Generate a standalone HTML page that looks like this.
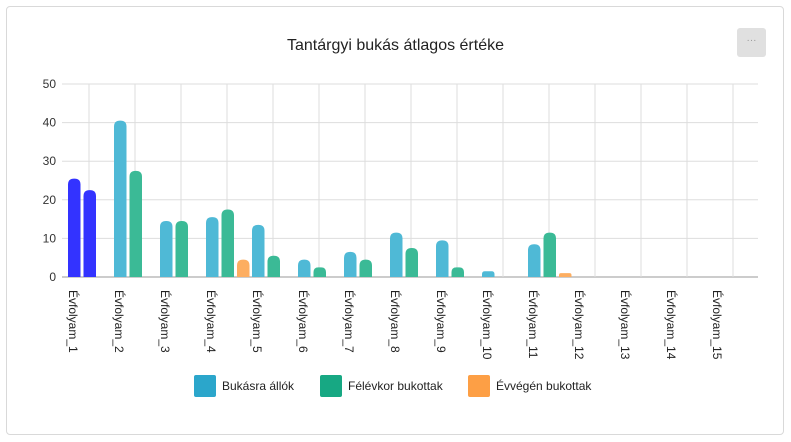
<!DOCTYPE html>
<html><head><meta charset="utf-8"><style>
body{margin:0;width:791px;height:442px;background:#fff;font-family:"Liberation Sans",sans-serif;overflow:hidden}
.card{position:absolute;left:6px;top:6px;width:778px;height:429px;border:1px solid #d9d9d9;border-radius:4px;box-sizing:border-box}
.title{position:absolute;left:0;width:791px;top:37px;text-align:center;font-size:16px;color:#222}
.menu{position:absolute;left:737px;top:28px;width:29px;height:29px;background:#e0e0e0;border-radius:3px;color:#999;font-size:10px;text-align:center;line-height:26px}
</style></head><body>
<div class="card"></div>
<div class="title">Tantárgyi bukás átlagos értéke</div>
<div class="menu">···</div>
<svg id="c" width="791" height="442" style="position:absolute;left:0;top:0"></svg>
<script>
const categories=["Évfolyam_1","Évfolyam_2","Évfolyam_3","Évfolyam_4","Évfolyam_5","Évfolyam_6","Évfolyam_7","Évfolyam_8","Évfolyam_9","Évfolyam_10","Évfolyam_11","Évfolyam_12","Évfolyam_13","Évfolyam_14","Évfolyam_15"];
const bukasra=[25.5,40.5,14.5,15.5,13.5,4.5,6.5,11.5,9.5,1.5,8.5,0,0,0,0];
const felevkor=[22.5,27.5,14.5,17.5,5.5,2.5,4.5,7.5,2.5,0,11.5,0,0,0,0];
const evvegen=[0,0,0,4.5,0,0,0,0,0,0,1,0,0,0,0];
const yTicks=[0,10,20,30,40,50];
const seriesNames=["Bukásra állók","Félévkor bukottak","Évvégén bukottak"];
const NS="http://www.w3.org/2000/svg",svg=document.getElementById('c');
const x0=68,step=46,yBase=277,yTop=84,yMax=50;
const y=v=>yBase-(yBase-yTop)*v/yMax;
const gx=i=>x0+i*step;
function el(t,a,p){const e=document.createElementNS(NS,t);for(const k in a)e.setAttribute(k,a[k]);(p||svg).appendChild(e);return e;}
yTicks.forEach(t=>{
 const l=el('line',{x1:62,x2:758,y1:y(t),y2:y(t),stroke:t===0?'#999':'#ddd','stroke-width':1});
 
 
 const tx=el('text',{x:56,y:y(t)+4,'text-anchor':'end','font-size':12,fill:'#333'});tx.textContent=t;
 
 
});
categories.forEach((c,i)=>{
 const l=el('line',{x1:gx(i)+21,x2:gx(i)+21,y1:yTop,y2:yBase,stroke:'#ddd','stroke-width':1});
 
 
});
const cols=[['#4fb9d6','#3bba96','#fdae61']];
const series=[bukasra,felevkor,evvegen];
function bar(xl,v,color){
 if(v<=0)return;
 const w=12.5,top=y(v),h=yBase-top,r=Math.min(6,h/2);
 const d=`M${xl},${yBase}V${top+r}Q${xl},${top} ${xl+r},${top}H${xl+w-r}Q${xl+w},${top} ${xl+w},${top+r}V${yBase}Z`;
 const p=el('path',{d:d,fill:color});
 
 
}
categories.forEach((c,i)=>{
 series.forEach((s,k)=>{
  let col=cols[0][k];
  if(i===0)col='#3333ff';
  bar(gx(i)+k*15.5,s[i],col);
 });
 const t=el('text',{transform:`translate(${gx(i)+1},290) rotate(90)`,'font-size':12,fill:'#222'});
 t.textContent=c;
 
 
});
const lg=[[194,'#2ba6cb'],[320,'#17a883'],[468,'#fd9f45']];
seriesNames.forEach((n,i)=>{
 const r=el('rect',{x:lg[i][0],y:375,width:22,height:22,rx:2,fill:lg[i][1]});
 
 
 const t=el('text',{x:lg[i][0]+28,y:390,'font-size':12,fill:'#222'});t.textContent=n;
 
 
});
</script>
</body></html>
